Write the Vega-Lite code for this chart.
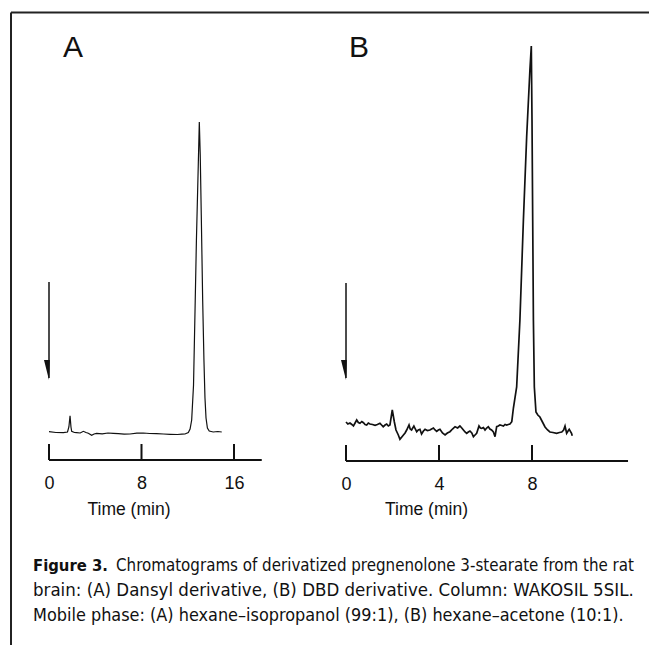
{
  "$schema": "https://vega.github.io/schema/vega-lite/v6.json",
  "width": 649,
  "height": 460,
  "autosize": {"type": "none"},
  "padding": {"left": 0, "top": 0, "right": 0, "bottom": 185},
  "background": "white",
  "config": {"view": {"stroke": null}, "font": "Liberation Sans"},
  "datasets": {
    "traceA": [
      {"t": 0.0, "s": 28.3}, {"t": 0.6, "s": 27.5}, {"t": 1.24, "s": 27.3}, {"t": 1.6, "s": 28},
      {"t": 1.72, "s": 33}, {"t": 1.82, "s": 44.3}, {"t": 1.9, "s": 33}, {"t": 1.96, "s": 28.7},
      {"t": 2.2, "s": 27.5}, {"t": 2.39, "s": 27.3}, {"t": 2.7, "s": 27}, {"t": 2.97, "s": 28.7},
      {"t": 3.2, "s": 27.5}, {"t": 3.4, "s": 26.7}, {"t": 3.69, "s": 24.7}, {"t": 3.9, "s": 26},
      {"t": 4.12, "s": 26.7}, {"t": 4.6, "s": 26.2}, {"t": 5.1, "s": 27}, {"t": 5.56, "s": 26.7},
      {"t": 6.0, "s": 26.3}, {"t": 6.5, "s": 25.8}, {"t": 7.0, "s": 26}, {"t": 7.6, "s": 26.8},
      {"t": 8.16, "s": 27}, {"t": 8.7, "s": 26.5}, {"t": 9.3, "s": 26.3}, {"t": 9.9, "s": 26},
      {"t": 10.47, "s": 25.7}, {"t": 11.1, "s": 25.5}, {"t": 11.5, "s": 25.8}, {"t": 11.76, "s": 26},
      {"t": 12.05, "s": 27.5}, {"t": 12.2, "s": 31}, {"t": 12.34, "s": 40}, {"t": 12.5, "s": 75},
      {"t": 12.63, "s": 150}, {"t": 12.75, "s": 220}, {"t": 12.91, "s": 295}, {"t": 13.0, "s": 338},
      {"t": 13.08, "s": 305}, {"t": 13.17, "s": 245}, {"t": 13.29, "s": 160}, {"t": 13.4, "s": 100},
      {"t": 13.49, "s": 62}, {"t": 13.58, "s": 42}, {"t": 13.7, "s": 32}, {"t": 13.86, "s": 29},
      {"t": 14.2, "s": 28}, {"t": 14.6, "s": 28.5}, {"t": 14.94, "s": 28}
    ],
    "traceB": [
      {"t": 0.0, "s": 38}, {"t": 0.08, "s": 36}, {"t": 0.17, "s": 37}, {"t": 0.25, "s": 35.5}, {"t": 0.32, "s": 34},
      {"t": 0.39, "s": 37}, {"t": 0.46, "s": 40}, {"t": 0.53, "s": 37.5}, {"t": 0.6, "s": 36.7}, {"t": 0.68, "s": 38.5},
      {"t": 0.75, "s": 37.3}, {"t": 0.82, "s": 35.5}, {"t": 0.89, "s": 35}, {"t": 0.96, "s": 37}, {"t": 1.03, "s": 36},
      {"t": 1.14, "s": 35.5}, {"t": 1.25, "s": 34.7}, {"t": 1.35, "s": 35.5}, {"t": 1.46, "s": 36.7}, {"t": 1.53, "s": 35},
      {"t": 1.6, "s": 33.3}, {"t": 1.68, "s": 35}, {"t": 1.75, "s": 36}, {"t": 1.82, "s": 34}, {"t": 1.89, "s": 35},
      {"t": 1.99, "s": 50}, {"t": 2.08, "s": 38}, {"t": 2.15, "s": 30}, {"t": 2.25, "s": 25}, {"t": 2.32, "s": 20.7},
      {"t": 2.4, "s": 23}, {"t": 2.47, "s": 25}, {"t": 2.54, "s": 27}, {"t": 2.61, "s": 30}, {"t": 2.71, "s": 35},
      {"t": 2.76, "s": 31}, {"t": 2.82, "s": 30}, {"t": 2.92, "s": 34}, {"t": 2.98, "s": 31}, {"t": 3.04, "s": 28.3},
      {"t": 3.11, "s": 30}, {"t": 3.18, "s": 30.7}, {"t": 3.25, "s": 26}, {"t": 3.33, "s": 29}, {"t": 3.4, "s": 30.7},
      {"t": 3.5, "s": 29.5}, {"t": 3.61, "s": 30}, {"t": 3.68, "s": 31}, {"t": 3.76, "s": 32}, {"t": 3.83, "s": 30},
      {"t": 3.9, "s": 28.7}, {"t": 3.97, "s": 30}, {"t": 4.04, "s": 30.7}, {"t": 4.15, "s": 27}, {"t": 4.26, "s": 25},
      {"t": 4.36, "s": 27}, {"t": 4.47, "s": 28.3}, {"t": 4.58, "s": 31}, {"t": 4.69, "s": 33.3}, {"t": 4.8, "s": 32},
      {"t": 4.9, "s": 34}, {"t": 4.98, "s": 32}, {"t": 5.05, "s": 30}, {"t": 5.12, "s": 28}, {"t": 5.19, "s": 26.7},
      {"t": 5.26, "s": 28}, {"t": 5.33, "s": 29}, {"t": 5.41, "s": 27}, {"t": 5.48, "s": 23.3}, {"t": 5.55, "s": 25},
      {"t": 5.62, "s": 26.7}, {"t": 5.72, "s": 34}, {"t": 5.78, "s": 32}, {"t": 5.84, "s": 31.7}, {"t": 5.91, "s": 32.5},
      {"t": 5.98, "s": 30}, {"t": 6.05, "s": 32}, {"t": 6.12, "s": 33.3}, {"t": 6.19, "s": 31}, {"t": 6.26, "s": 30},
      {"t": 6.34, "s": 28}, {"t": 6.41, "s": 23.3}, {"t": 6.48, "s": 33.3}, {"t": 6.55, "s": 34}, {"t": 6.62, "s": 35},
      {"t": 6.7, "s": 34.5}, {"t": 6.77, "s": 34}, {"t": 6.84, "s": 35.5}, {"t": 6.91, "s": 35}, {"t": 6.98, "s": 35.5},
      {"t": 7.05, "s": 36}, {"t": 7.13, "s": 38.3}, {"t": 7.2, "s": 52}, {"t": 7.34, "s": 73}, {"t": 7.48, "s": 140},
      {"t": 7.63, "s": 240}, {"t": 7.77, "s": 323}, {"t": 7.91, "s": 390}, {"t": 7.97, "s": 414}, {"t": 8.0, "s": 340},
      {"t": 8.03, "s": 240}, {"t": 8.06, "s": 140}, {"t": 8.1, "s": 73}, {"t": 8.17, "s": 48}, {"t": 8.25, "s": 45},
      {"t": 8.34, "s": 43}, {"t": 8.45, "s": 38}, {"t": 8.56, "s": 33}, {"t": 8.67, "s": 30}, {"t": 8.77, "s": 28},
      {"t": 8.9, "s": 27.5}, {"t": 9.06, "s": 26.7}, {"t": 9.18, "s": 27.5}, {"t": 9.28, "s": 28}, {"t": 9.36, "s": 30},
      {"t": 9.42, "s": 34}, {"t": 9.49, "s": 26.7}, {"t": 9.55, "s": 29}, {"t": 9.6, "s": 30.7}, {"t": 9.7, "s": 26.7},
      {"t": 9.73, "s": 24.3}
    ]
  },
  "layer": [
    {
      "data": {"name": "traceA"},
      "mark": {"type": "line", "color": "#111", "strokeWidth": 1.2, "interpolate": "linear"},
      "encoding": {
        "x": {"field": "t", "type": "quantitative",
          "scale": {"domain": [-4.238, 51.892], "nice": false, "zero": false},
          "axis": {"orient": "bottom", "values": [0, 8, 16], "domain": false, "grid": false, "ticks": false,
            "labelPadding": 28,
            "labelBaseline": "alphabetic", "labelFontSize": 18, "labelColor": "#111", "labelFont": "Liberation Sans",
            "labelFlush": false, "labelOverlap": false,
            "title": "Time (min)", "titleFontSize": 17.5, "titleFontWeight": "normal", "titleFont": "Liberation Sans",
            "titleColor": "#111", "titleX": 128.5, "titleY": 54, "titleAlign": "center", "titleBaseline": "alphabetic"}},
        "y": {"field": "s", "type": "quantitative",
          "scale": {"domain": [0, 460], "nice": false, "zero": false}, "axis": null}
      }
    },
    {
      "data": {"name": "traceB"},
      "mark": {"type": "line", "color": "#111", "strokeWidth": 1.7, "interpolate": "linear"},
      "encoding": {
        "x": {"field": "t", "type": "quantitative",
          "scale": {"domain": [-14.882, 13.032], "nice": false, "zero": false},
          "axis": {"orient": "bottom", "values": [0, 4, 8], "domain": false, "grid": false, "ticks": false,
            "labelPadding": 29,
            "labelBaseline": "alphabetic", "labelFontSize": 18, "labelColor": "#111", "labelFont": "Liberation Sans",
            "labelFlush": false, "labelOverlap": false,
            "title": "Time (min)", "titleFontSize": 17.5, "titleFontWeight": "normal", "titleFont": "Liberation Sans",
            "titleColor": "#111", "titleX": 426, "titleY": 54, "titleAlign": "center", "titleBaseline": "alphabetic"}},
        "y": {"field": "s", "type": "quantitative", "axis": null}
      }
    },
    {
      "data": {"values": [{"start": 0, "end": 18.4, "level": 0}]},
      "mark": {"type": "rule", "color": "#111", "strokeWidth": 2},
      "encoding": {
        "x": {"field": "start", "type": "quantitative", "axis": null,
          "scale": {"domain": [-4.238, 51.892], "nice": false, "zero": false}},
        "x2": {"field": "end"},
        "y": {"field": "level", "type": "quantitative", "axis": null}
      }
    },
    {
      "data": {"values": [{"t": 0, "lo": 0, "hi": 16}, {"t": 8, "lo": 0, "hi": 16}, {"t": 16, "lo": 0, "hi": 16}]},
      "mark": {"type": "rule", "color": "#111", "strokeWidth": 2},
      "encoding": {
        "x": {"field": "t", "type": "quantitative", "axis": null,
          "scale": {"domain": [-4.238, 51.892], "nice": false, "zero": false}},
        "y": {"field": "lo", "type": "quantitative", "axis": null},
        "y2": {"field": "hi"}
      }
    },
    {
      "data": {"values": [{"t": 0, "top": 178, "bottom": 82}]},
      "mark": {"type": "rule", "color": "#111", "strokeWidth": 1.5},
      "encoding": {
        "x": {"field": "t", "type": "quantitative", "axis": null,
          "scale": {"domain": [-4.238, 51.892], "nice": false, "zero": false}},
        "y": {"field": "top", "type": "quantitative", "axis": null},
        "y2": {"field": "bottom"}
      }
    },
    {
      "data": {"values": [{"t": 0, "s": 90}]},
      "mark": {"type": "point", "filled": true, "color": "#111", "opacity": 1, "size": 400,
        "shape": "M -0.5 -1 L 0 1 L 0.08 -1 Z"},
      "encoding": {
        "x": {"field": "t", "type": "quantitative", "axis": null,
          "scale": {"domain": [-4.238, 51.892], "nice": false, "zero": false}},
        "y": {"field": "s", "type": "quantitative", "axis": null}
      }
    },
    {
      "data": {"values": [{"label": "A", "t": 2.08, "s": 403}]},
      "mark": {"type": "text", "fontSize": 30, "font": "Liberation Sans", "color": "#111", "align": "center", "baseline": "alphabetic"},
      "encoding": {
        "x": {"field": "t", "type": "quantitative", "axis": null,
          "scale": {"domain": [-4.238, 51.892], "nice": false, "zero": false}},
        "y": {"field": "s", "type": "quantitative", "axis": null},
        "text": {"field": "label"}
      }
    },
    {
      "data": {"values": [{"start": 0, "end": 12.13, "level": -1}]},
      "mark": {"type": "rule", "color": "#111", "strokeWidth": 2},
      "encoding": {
        "x": {"field": "start", "type": "quantitative", "axis": null,
          "scale": {"domain": [-14.882, 13.032], "nice": false, "zero": false}},
        "x2": {"field": "end"},
        "y": {"field": "level", "type": "quantitative", "axis": null}
      }
    },
    {
      "data": {"values": [{"t": 0, "lo": -1, "hi": 15}, {"t": 4, "lo": -1, "hi": 15}, {"t": 8, "lo": -1, "hi": 15}]},
      "mark": {"type": "rule", "color": "#111", "strokeWidth": 2},
      "encoding": {
        "x": {"field": "t", "type": "quantitative", "axis": null,
          "scale": {"domain": [-14.882, 13.032], "nice": false, "zero": false}},
        "y": {"field": "lo", "type": "quantitative", "axis": null},
        "y2": {"field": "hi"}
      }
    },
    {
      "data": {"values": [{"t": 0, "top": 177, "bottom": 82}]},
      "mark": {"type": "rule", "color": "#111", "strokeWidth": 1.5},
      "encoding": {
        "x": {"field": "t", "type": "quantitative", "axis": null,
          "scale": {"domain": [-14.882, 13.032], "nice": false, "zero": false}},
        "y": {"field": "top", "type": "quantitative", "axis": null},
        "y2": {"field": "bottom"}
      }
    },
    {
      "data": {"values": [{"t": 0, "s": 90}]},
      "mark": {"type": "point", "filled": true, "color": "#111", "opacity": 1, "size": 400,
        "shape": "M -0.5 -1 L 0 1 L 0.08 -1 Z"},
      "encoding": {
        "x": {"field": "t", "type": "quantitative", "axis": null,
          "scale": {"domain": [-14.882, 13.032], "nice": false, "zero": false}},
        "y": {"field": "s", "type": "quantitative", "axis": null}
      }
    },
    {
      "data": {"values": [{"label": "B", "t": 0.56, "s": 403}]},
      "mark": {"type": "text", "fontSize": 30, "font": "Liberation Sans", "color": "#111", "align": "center", "baseline": "alphabetic"},
      "encoding": {
        "x": {"field": "t", "type": "quantitative", "axis": null,
          "scale": {"domain": [-14.882, 13.032], "nice": false, "zero": false}},
        "y": {"field": "s", "type": "quantitative", "axis": null},
        "text": {"field": "label"}
      }
    },
    {
      "data": {"values": [{"edge": "top"}]},
      "mark": {"type": "rule", "color": "#222", "strokeWidth": 2},
      "encoding": {
        "x": {"datum": -3.286, "type": "quantitative", "axis": null,
          "scale": {"domain": [-4.238, 51.892], "nice": false, "zero": false}},
        "x2": {"datum": 51.892},
        "y": {"datum": 447.5, "type": "quantitative", "axis": null}
      }
    },
    {
      "data": {"values": [{"edge": "left"}]},
      "mark": {"type": "rule", "color": "#222", "strokeWidth": 2},
      "encoding": {
        "x": {"datum": -3.286, "type": "quantitative", "axis": null,
          "scale": {"domain": [-4.238, 51.892], "nice": false, "zero": false}},
        "y": {"datum": 447.5, "type": "quantitative", "axis": null},
        "y2": {"datum": -185}
      }
    },
    {
      "data": {"values": [{"caption": "Figure 3."}]},
      "mark": {"type": "text", "fontSize": 16.5, "font": "DejaVu Sans Condensed", "fontWeight": "bold", "color": "#111", "align": "left", "baseline": "alphabetic"},
      "encoding": {
        "x": {"datum": -1.384, "type": "quantitative", "axis": null,
          "scale": {"domain": [-4.238, 51.892], "nice": false, "zero": false}},
        "y": {"datum": -111, "type": "quantitative", "axis": null},
        "text": {"field": "caption"}
      }
    },
    {
      "data": {"values": [{"caption": "Chromatograms of derivatized pregnenolone 3-stearate from the rat"}]},
      "mark": {"type": "text", "fontSize": 16.8, "font": "DejaVu Sans Condensed", "color": "#111", "align": "left", "baseline": "alphabetic"},
      "encoding": {
        "x": {"datum": 5.8, "type": "quantitative", "axis": null,
          "scale": {"domain": [-4.238, 51.892], "nice": false, "zero": false}},
        "y": {"datum": -111, "type": "quantitative", "axis": null},
        "text": {"field": "caption"}
      }
    },
    {
      "data": {"values": [{"caption": "brain: (A) Dansyl derivative, (B) DBD derivative. Column: WAKOSIL 5SIL."}]},
      "mark": {"type": "text", "fontSize": 18.5, "font": "DejaVu Sans Condensed", "color": "#111", "align": "left", "baseline": "alphabetic"},
      "encoding": {
        "x": {"datum": -1.384, "type": "quantitative", "axis": null,
          "scale": {"domain": [-4.238, 51.892], "nice": false, "zero": false}},
        "y": {"datum": -136, "type": "quantitative", "axis": null},
        "text": {"field": "caption"}
      }
    },
    {
      "data": {"values": [{"caption": "Mobile phase: (A) hexane–isopropanol (99:1), (B) hexane–acetone (10:1)."}]},
      "mark": {"type": "text", "fontSize": 17.9, "font": "DejaVu Sans Condensed", "color": "#111", "align": "left", "baseline": "alphabetic"},
      "encoding": {
        "x": {"datum": -1.384, "type": "quantitative", "axis": null,
          "scale": {"domain": [-4.238, 51.892], "nice": false, "zero": false}},
        "y": {"datum": -161, "type": "quantitative", "axis": null},
        "text": {"field": "caption"}
      }
    }
  ],
  "resolve": {"scale": {"x": "independent"}}
}
